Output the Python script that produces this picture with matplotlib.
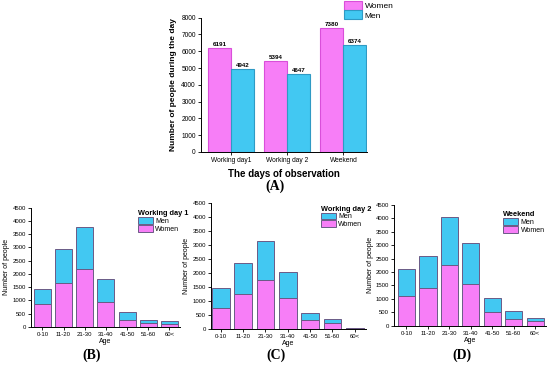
import matplotlib.pyplot as plt
import numpy as np

plt.rcParams['font.family'] = ['Liberation Sans', 'DejaVu Sans']

# (A) totals per day
days = ["Working day1", "Working day 2", "Weekend"]
women_day = [6191, 5394, 7380]
men_day = [4942, 4647, 6374]

# (B)-(D) age groups
ages = ["0-10", "11-20", "21-30", "31-40", "41-50", "51-60", "60<"]
wd1_women = [850, 1650, 2200, 950, 280, 150, 100]
wd1_total = [1450, 2950, 3780, 1820, 580, 270, 210]
wd2_women = [750, 1250, 1750, 1100, 320, 200, 20]
wd2_total = [1450, 2350, 3150, 2050, 580, 350, 50]
we_women = [1120, 1420, 2280, 1560, 520, 260, 160]
we_total = [2120, 2600, 4050, 3070, 1020, 530, 280]

pink = "#f77ef7"
cyan = "#42c8f2"
edge = "#6b5a86"

fig = plt.figure(figsize=(5.5, 3.69), dpi=100)

def px(l, t, r, b):
    return [l / 550, 1 - b / 369, (r - l) / 550, (b - t) / 369]

def style(ax, fs=5):
    ax.spines['top'].set_visible(False)
    ax.spines['right'].set_visible(False)
    ax.tick_params(labelsize=fs, length=2, width=0.6, pad=1.5)
    for s in ['left', 'bottom']:
        ax.spines[s].set_linewidth(0.7)

# top chart
ax = fig.add_axes(px(200.7, 17.7, 367, 152))
x = np.arange(len(days))
w = 0.41
b1 = ax.bar(x - w / 2, women_day, w, color=pink, edgecolor="#d94fd9", linewidth=0.8, label="Women")
b2 = ax.bar(x + w / 2, men_day, w, color=cyan, edgecolor="#2f9ac4", linewidth=0.8, label="Men")
for bars in (b1, b2):
    for r in bars:
        ax.text(r.get_x() + r.get_width() / 2, r.get_height() + 60, str(int(r.get_height())),
                ha='center', va='bottom', fontsize=4.5, fontweight='bold')
ax.set_xlim(-0.54, 2.42)
ax.set_ylim(0, 8000)
ax.set_yticks(range(0, 8001, 1000))
ax.set_xticks(x)
ax.set_xticklabels(days)
style(ax, 4.8)
ax.set_ylabel("Number of people during the day", fontsize=6, fontweight='bold', labelpad=3)
ax.set_xlabel("The days of observation", fontsize=7, fontweight='bold', labelpad=4)
ax.legend(loc='upper left', bbox_to_anchor=(0.84, 1.15), fontsize=6, frameon=False,
          handlelength=2.2, handleheight=1.3, labelspacing=0, handletextpad=0.3, borderaxespad=0)

fig.text(275 / 550, 1 - 186 / 369, "(A)", ha='center', va='center', fontsize=10,
         fontweight='bold', family='Liberation Serif')

panels = [
    (px(30.7, 207.7, 180, 327), wd1_women, wd1_total, "Working day 1", (-0.55, 6.5), (0.7, 1.0), "(B)", 92),
    (px(210.7, 203, 366, 329), wd2_women, wd2_total, "Working day 2", (-0.45, 6.5), (0.69, 1.0), "(C)", 276),
    (px(394, 205, 546, 325.7), we_women, we_total, "Weekend", (-0.58, 6.5), (0.7, 0.97), "(D)", 462),
]

for rect, women, total, title, xl, leg_pos, lab, lx in panels:
    ax = fig.add_axes(rect)
    xa = np.arange(len(ages))
    men = np.array(total) - np.array(women)
    ax.bar(xa, women, 0.8, color=pink, edgecolor=edge, linewidth=0.7, label="Women")
    ax.bar(xa, men, 0.8, bottom=women, color=cyan, edgecolor=edge, linewidth=0.7, label="Men")
    ax.set_xlim(*xl)
    ax.set_ylim(0, 4500)
    ax.set_yticks(range(0, 4501, 500))
    ax.set_xticks(xa)
    ax.set_xticklabels(ages)
    style(ax, 4.3)
    ax.set_ylabel("Number of people", fontsize=5, labelpad=1.5)
    ax.set_xlabel("Age", fontsize=5, labelpad=1)
    h, l = ax.get_legend_handles_labels()
    leg = ax.legend(h[::-1], l[::-1], title=title, loc='upper left', bbox_to_anchor=leg_pos,
                    fontsize=5, title_fontsize=5.3, frameon=False, handlelength=2.2,
                    handleheight=1.1, labelspacing=0, handletextpad=0.3, borderaxespad=0)
    leg.get_title().set_fontweight('bold')
    leg._legend_box.align = "left"
    fig.text(lx / 550, 1 - 355 / 369, lab, ha='center', va='center', fontsize=10,
             fontweight='bold', family='Liberation Serif')

fig.savefig("out.png", dpi=100)
